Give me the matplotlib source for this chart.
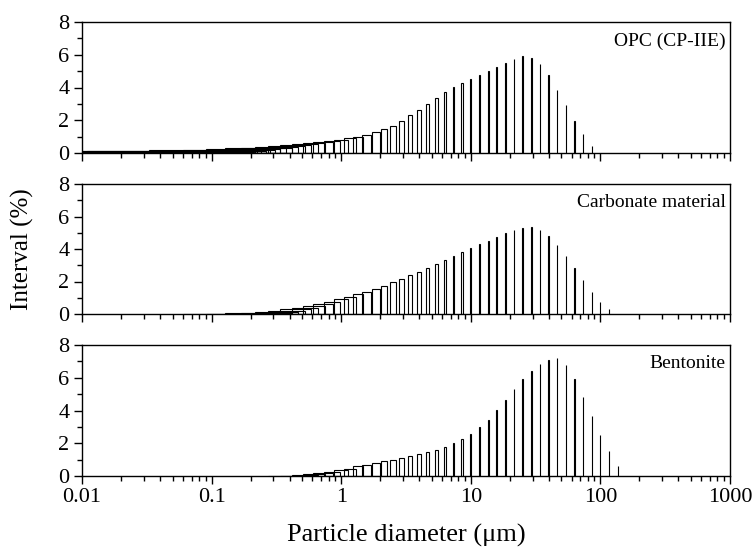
import matplotlib
matplotlib.use("Agg")
import matplotlib.pyplot as plt
from matplotlib.ticker import FixedLocator, NullFormatter, LogLocator

plt.rcParams['font.family'] = ['Liberation Serif', 'DejaVu Serif']
plt.rcParams['mathtext.fontset'] = 'stix'

# ---------------- data ----------------
labels = ["OPC (CP-IIE)", "Carbonate material", "Bentonite"]

diam_opc = [0.0341, 0.0398, 0.0464, 0.0541, 0.0631, 0.0736, 0.0858, 0.100, 0.117, 0.136,
            0.158, 0.185, 0.215, 0.251, 0.293, 0.341, 0.398, 0.464, 0.541, 0.631,
            0.736, 0.858, 1.00, 1.17, 1.36, 1.58, 1.85, 2.15, 2.51, 2.93,
            3.41, 3.98, 4.64, 5.41, 6.31, 7.36, 8.58, 10.0, 11.7, 13.6,
            15.8, 18.5, 21.5, 25.1, 29.3, 34.1, 39.8, 46.4, 54.1, 63.1,
            73.6, 85.8]
val_opc = [0.02, 0.03, 0.03, 0.04, 0.05, 0.06, 0.08, 0.10, 0.12, 0.14,
           0.17, 0.20, 0.24, 0.28, 0.33, 0.38, 0.44, 0.50, 0.56, 0.62,
           0.69, 0.76, 0.82, 0.90, 0.99, 1.09, 1.26, 1.45, 1.67, 1.96,
           2.30, 2.63, 3.01, 3.38, 3.71, 4.03, 4.28, 4.54, 4.79, 5.03,
           5.27, 5.52, 5.76, 5.95, 5.82, 5.44, 4.77, 3.87, 2.93, 1.98,
           1.14, 0.45]

diam_carb = [0.185, 0.215, 0.251, 0.293, 0.341, 0.398, 0.464, 0.541, 0.631, 0.736,
             0.858, 1.00, 1.17, 1.36, 1.58, 1.85, 2.15, 2.51, 2.93, 3.41,
             3.98, 4.64, 5.41, 6.31, 7.36, 8.58, 10.0, 11.7, 13.6, 15.8,
             18.5, 21.5, 25.1, 29.3, 34.1, 39.8, 46.4, 54.1, 63.1, 73.6,
             85.8, 100.0, 117.0]
val_carb = [0.01, 0.02, 0.04, 0.07, 0.12, 0.19, 0.28, 0.38, 0.50, 0.62,
            0.76, 0.90, 1.07, 1.21, 1.37, 1.56, 1.74, 1.95, 2.13, 2.38,
            2.61, 2.85, 3.10, 3.32, 3.57, 3.79, 4.04, 4.29, 4.51, 4.76,
            4.96, 5.15, 5.27, 5.35, 5.17, 4.80, 4.25, 3.57, 2.81, 2.07,
            1.35, 0.76, 0.29]

diam_bent = [0.398, 0.464, 0.541, 0.631, 0.736, 0.858, 1.00, 1.17, 1.36, 1.58,
             1.85, 2.15, 2.51, 2.93, 3.41, 3.98, 4.64, 5.41, 6.31, 7.36,
             8.58, 10.0, 11.7, 13.6, 15.8, 18.5, 21.5, 25.1, 29.3, 34.1,
             39.8, 46.4, 54.1, 63.1, 73.6, 85.8, 100.0, 117.0, 136.0]
val_bent = [0.02, 0.03, 0.06, 0.10, 0.16, 0.27, 0.35, 0.45, 0.59, 0.67,
            0.80, 0.90, 1.00, 1.12, 1.22, 1.33, 1.45, 1.61, 1.80, 2.00,
            2.24, 2.57, 3.00, 3.45, 4.02, 4.63, 5.29, 5.92, 6.43, 6.82,
            7.08, 7.18, 6.76, 5.92, 4.82, 3.65, 2.49, 1.51, 0.61]

xtick_vals = [0.01, 0.1, 1, 10, 100, 1000]
xtick_labels = ["0.01", "0.1", "1", "10", "100", "1000"]
ytick_vals = [0, 2, 4, 6, 8]

series = [(diam_opc, val_opc), (diam_carb, val_carb), (diam_bent, val_bent)]

# ---------------- figure ----------------
W, H = 755, 558
fig = plt.figure(figsize=(W / 100, H / 100), dpi=100)

left_px, right_px = 82, 730
panels_px = [(22, 153), (184, 314), (345, 476)]
BAR_W = 0.25  # bar width in µm (linear)

axes = []
for i, (top, bot) in enumerate(panels_px):
    ax = fig.add_axes([left_px / W, 1 - bot / H, (right_px - left_px) / W, (bot - top) / H])
    d, v = series[i]
    ax.bar(d, v, width=BAR_W, align='center', fill=False, edgecolor='black', linewidth=0.8)
    ax.set_xscale('log')
    ax.set_xlim(0.01, 1000)
    ax.set_ylim(0, 8)
    ax.set_yticks(ytick_vals)
    ax.yaxis.set_minor_locator(FixedLocator([1, 3, 5, 7]))
    ax.xaxis.set_major_locator(FixedLocator(xtick_vals))
    ax.xaxis.set_minor_locator(LogLocator(base=10, subs=range(2, 10), numticks=20))
    ax.xaxis.set_minor_formatter(NullFormatter())
    if i == 2:
        ax.set_xticklabels(xtick_labels)
    else:
        ax.set_xticklabels([])
    ax.tick_params(axis='both', which='major', direction='out', length=6, width=1.0,
                   labelsize=16, top=False, right=False, pad=3)
    ax.tick_params(axis='both', which='minor', direction='out', length=3.5, width=1.0,
                   top=False, right=False)
    for sp in ax.spines.values():
        sp.set_linewidth(1.0)
    ax.text(0.993, 0.855, labels[i], transform=ax.transAxes, ha='right', va='center',
            fontsize=14)
    axes.append(ax)

fig.text(406 / W, 1 - 535 / H, "Particle diameter (\u03bcm)", ha='center', va='center', fontsize=19)
fig.text(22 / W, 1 - 249 / H, "Interval (%)", ha='center', va='center', rotation=90, fontsize=18)

fig.savefig("out.png", dpi=100)
